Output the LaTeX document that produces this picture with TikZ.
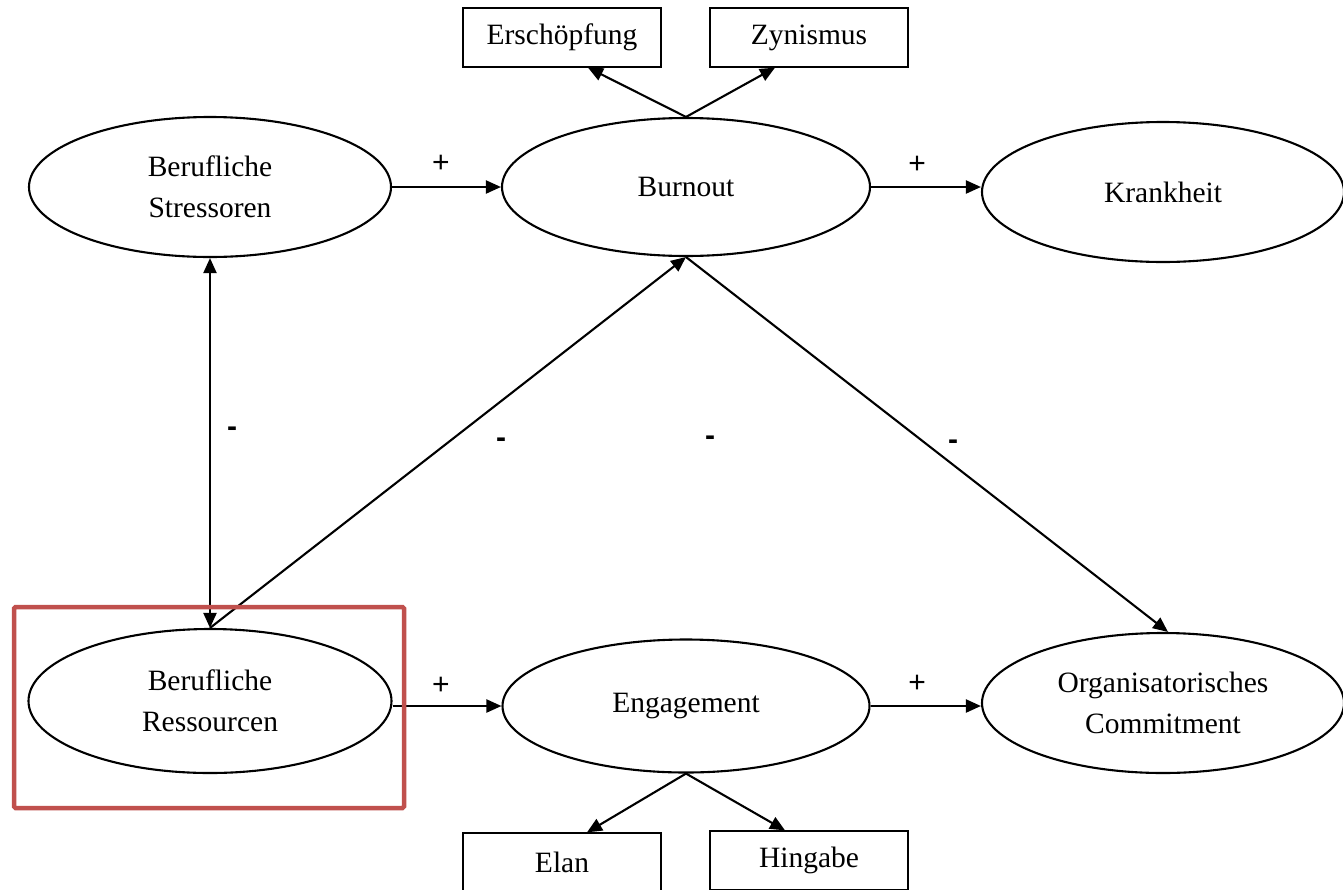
\documentclass[tikz,border=0pt]{standalone}
\usepackage{fontspec}
\setmainfont{Liberation Serif}
\newfontfamily\signfont{Liberation Sans}
\usetikzlibrary{shapes.geometric,arrows.meta,calc}
\definecolor{hlred}{HTML}{C0504D}
\begin{document}
\begin{tikzpicture}[x=1pt,y=-1pt,
  oval/.style={draw,ellipse,line width=2.1pt,inner sep=0pt,minimum width=362pt,minimum height=140pt,
    align=center,font=\fontsize{29.5}{41}\selectfont},
  indbox/.style={draw,rectangle,line width=1.3pt,inner sep=0pt,minimum width=198pt,minimum height=59pt,
    font=\fontsize{29.5}{35}\selectfont},
  arr/.style={line width=2.1pt,-{Triangle[length=15pt,width=13pt]}},
  darr/.style={line width=2.1pt,{Triangle[length=15pt,width=13pt]}-{Triangle[length=15pt,width=13pt]}},
  sign/.style={font=\signfont\fontsize{30}{30}\selectfont,inner sep=0pt},
  msign/.style={font=\signfont\bfseries\fontsize{30}{30}\selectfont,inner sep=0pt}]
\useasboundingbox (0,0) rectangle (1343,889);
\fill[white] (0,0) rectangle (1343,889);
% ellipses
\node[oval] (st) at (210,187) {Berufliche\\Stressoren};
\node[oval,minimum width=368pt,minimum height=138pt] (bo) at (686,187) {Burnout};
\node[oval] (kr) at (1163,192) {Krankheit};
\node[oval,minimum width=363pt,minimum height=144pt] (re) at (210,701) {Berufliche\\Ressourcen};
\node[oval,minimum width=367pt,minimum height=133pt] (en) at (686,706) {Engagement};
\node[oval] (co) at (1163,703) {Organisatorisches\\Commitment};
% boxes
\node[indbox] (er) at (562,37.5) {Erschöpfung};
\node[indbox] (zy) at (809,37.5) {Zynismus};
\node[indbox] (el) at (562,862.5) {Elan};
\node[indbox] (hi) at (809,860.5) {Hingabe};
% connectors
\draw[arr] (st.east) -- (bo.west);
\draw[arr] (bo.east) -- (bo.east -| kr.west);
\draw[arr] (en.west -| re.east) -- (en.west);
\draw[arr] (en.east) -- (en.east -| co.west);
\draw[darr] (st.south) -- (re.north);
\draw[arr] (re.north) -- (bo.south);
\draw[arr] (bo.south) -- ([xshift=5pt]co.north);
\draw[arr] (bo.north) -- ([xshift=26pt]er.south);
\draw[arr] (bo.north) -- ([xshift=-34pt]zy.south);
\draw[arr] (en.south) -- ([xshift=25pt]el.north);
\draw[arr] (en.south) -- ([xshift=-24pt]hi.north);
% signs
\node[sign] (p1) at (441,164) {+};
\node[sign] (p2) at (917,165) {+};
\node[sign] (p3) at (441,686) {+};
\node[sign] (p4) at (917,684) {+};
\node[msign] (m1) at (232,432) {-};
\node[msign] (m2) at (501,443) {-};
\node[msign] (m3) at (710,441) {-};
\node[msign] (m4) at (953,445) {-};
% highlight frame
\draw[hlred,line width=4.5pt,rounded corners=1.5pt] (14,607) rectangle (404,808);
\end{tikzpicture}
\end{document}
